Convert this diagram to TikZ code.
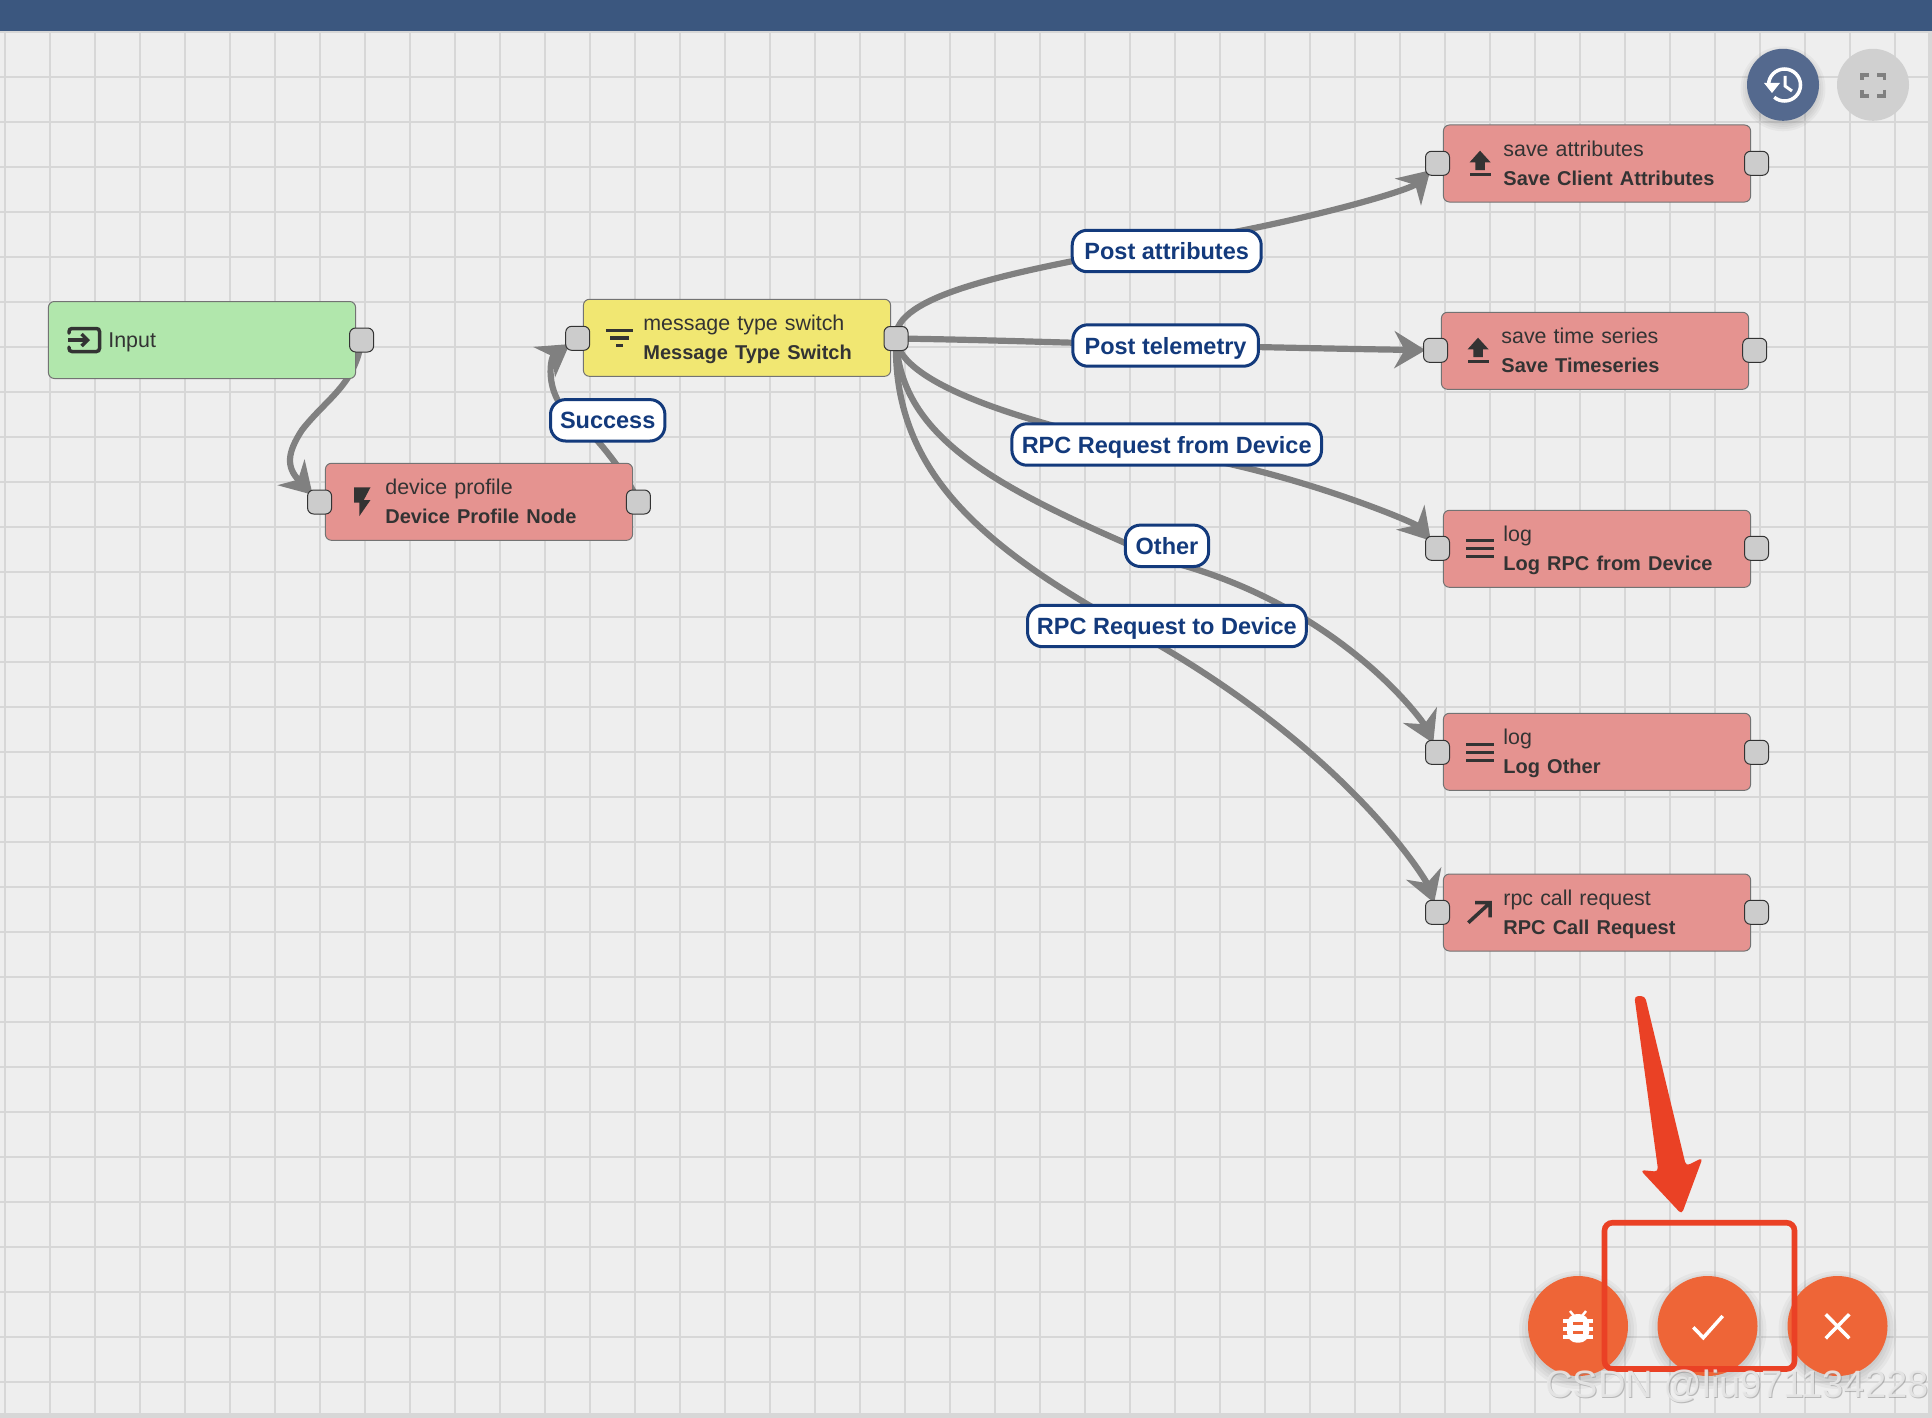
\documentclass[tikz,border=0pt]{standalone}
\usepackage{fontspec}
\setmainfont{Liberation Sans}
\usetikzlibrary{arrows.meta}
\pgfdeclarelayer{gridlayer}
\pgfdeclarelayer{edgelayer}
\pgfsetlayers{gridlayer,edgelayer,main}
\definecolor{bgc}{HTML}{EEEEEE}
\definecolor{gridc}{HTML}{D7D7D7}
\definecolor{barc}{HTML}{3B577F}
\definecolor{greenc}{HTML}{B1E7AC}
\definecolor{yellowc}{HTML}{F1E772}
\definecolor{redn}{HTML}{E59390}
\definecolor{portc}{HTML}{CCCCCC}
\definecolor{edgec}{HTML}{808080}
\definecolor{navy}{HTML}{133A7C}
\definecolor{ink}{HTML}{333333}
\definecolor{fab}{HTML}{EE6537}
\definecolor{calloutc}{HTML}{EA4125}
\definecolor{histc}{HTML}{54698E}
\definecolor{fullc}{HTML}{D0D0D0}
\tikzset{
  rulebox/.style={draw=black!55,line width=0.5pt,rounded corners=3pt,inner sep=0pt,
    minimum width=153.6pt,minimum height=38.5pt,text width=153.6pt,align=left,text=ink,
    font=\fontsize{10.7pt}{14.5pt}\selectfont},
  port/.style={draw=ink,line width=0.5pt,fill=portc,rounded corners=3pt,inner sep=0pt,
    minimum width=12pt,minimum height=12pt},
  edgeline/.style={draw=edgec,line width=3.1pt,shorten >=5pt,-{Stealth[length=15.5pt,width=18.5pt,inset=5pt]}},
  linklabel/.style={draw=navy,line width=1.5pt,fill=white,rounded corners=7.5pt,inner sep=0pt,
    minimum height=20.7pt,text height=11pt,text depth=2.5pt,text=navy,font=\fontsize{11.75pt}{14pt}\selectfont\bfseries},
  button/.style={circle,inner sep=0pt,minimum size=50pt,fill=fab},
  topbutton/.style={circle,inner sep=0pt,minimum size=36pt},
  icon/.style={draw=ink,line width=1.75pt},
  whiteicon/.style={draw=white,line width=1.75pt},
}
\newcommand{\firststrut}{\rule[-4.35pt]{0pt}{16pt}}
\newcommand{\twolines}[2]{\hspace*{30pt}\firststrut #1\\\hspace*{30pt}\strut\fontsize{10pt}{14.5pt}\selectfont\bfseries #2}
\newcommand{\softshadow}[3]{%
  \foreach \r in {1.00,1.06,1.12,1.18}{\fill[black,opacity=0.035] (#1,#2+4) circle[radius=#3*\r*0.5pt];}}
\begin{document}
\begin{tikzpicture}[x=0.5pt,y=-0.5pt]
\useasboundingbox (0,0) rectangle (1932,1418);
\begin{pgfonlayer}{gridlayer}
  \fill[bgc] (0,0) rectangle (1932,1418);
  \foreach \i in {0,...,42}{\draw[gridc,line width=1pt] ({4.5+45*\i},0) -- ({4.5+45*\i},1418);}
  \foreach \j in {0,...,30}{\draw[gridc,line width=1pt] (0,{31.7+45*\j}) -- (1932,{31.7+45*\j});}
  \fill[gridc] (1928,0) rectangle (1932,1418);
  \fill[gridc] (0,1413) rectangle (1932,1418);
  \fill[barc] (0,0) rectangle (1932,31);
\end{pgfonlayer}

% rule nodes
\node[rulebox,fill=greenc,minimum height=38.5pt] (input) at (202,340) {\hspace*{30pt}\firststrut Input};
\node[rulebox,fill=redn] (device) at (479,501.8) {\twolines{device profile}{Device Profile Node}};
\node[rulebox,fill=yellowc] (switch) at (737,337.8) {\twolines{message type switch}{Message Type Switch}};
\node[rulebox,fill=redn] (client) at (1597,163.5) {\twolines{save attributes}{Save Client Attributes}};
\node[rulebox,fill=redn] (series) at (1595,350.8) {\twolines{save time series}{Save Timeseries}};
\node[rulebox,fill=redn] (logrpc) at (1597,548.8) {\twolines{log}{Log RPC from Device}};
\node[rulebox,fill=redn] (logother) at (1597,751.8) {\twolines{log}{Log Other}};
\node[rulebox,fill=redn] (rpccall) at (1597,912.5) {\twolines{rpc call request}{RPC Call Request}};

% ports
\node[port] (inputOut) at (361.6,340) {};
\node[port] (deviceIn) at (319.6,502) {};
\node[port] (deviceOut) at (638.4,502) {};
\node[port] (switchIn) at (577.7,338.3) {};
\node[port] (switchOut) at (896,338.5) {};
\node[port] (clientIn) at (1437.5,163.3) {};
\node[port] (clientOut) at (1756.5,163.3) {};
\node[port] (seriesIn) at (1435.5,350.3) {};
\node[port] (seriesOut) at (1754.7,350.3) {};
\node[port] (logrpcIn) at (1437.5,548.3) {};
\node[port] (logrpcOut) at (1756.5,548.3) {};
\node[port] (logotherIn) at (1437.5,752.3) {};
\node[port] (logotherOut) at (1756.5,752.3) {};
\node[port] (rpccallIn) at (1437.5,912.3) {};
\node[port] (rpccallOut) at (1756.5,912.3) {};

% link labels
\node[linklabel,minimum width=94.5pt] (labAttr) at (1166.7,251) {Post attributes};
\node[linklabel,minimum width=92.8pt] (labTele) at (1165.6,345.5) {Post telemetry};
\node[linklabel,minimum width=154.8pt] (labFrom) at (1166.7,444.5) {RPC Request from Device};
\node[linklabel,minimum width=41.6pt] (labOther) at (1167,545.8) {Other};
\node[linklabel,minimum width=139.4pt] (labTo) at (1166.9,626) {RPC Request to Device};
\node[linklabel,minimum width=57.2pt] (labOk) at (607.7,420.3) {Success};

% connectors
\coordinate (wpInput) at (302,430);
\coordinate (wpOk) at (578,421);
\coordinate (wpAttr) at (1166,244);
\coordinate (wpTele) at (1166,345);
\coordinate (wpFrom) at (1166,452);
\coordinate (wpOther) at (1167,561);
\coordinate (wpTo) at (1125,626);
\begin{pgfonlayer}{edgelayer}
  \draw[edgeline] (inputOut.center) .. controls (355,385) and (327,398) .. (wpInput) .. controls (287,453) and (286,467) .. (deviceIn.center);
  \draw[edgeline] (deviceOut.center) .. controls (630,480) and (600,440) .. (wpOk) .. controls (543,400) and (550,358) .. (switchIn.center);
  \draw[edgeline] (switchOut.center) .. controls (893,296) and (1005,272) .. (wpAttr) .. controls (1290,225) and (1409,191) .. (clientIn.center);
  \draw[edgeline] (switchOut.center) .. controls (1000,340) and (1100,344) .. (wpTele) .. controls (1250,347) and (1350,349) .. (seriesIn.center);
  \draw[edgeline] (switchOut.center) .. controls (900,385) and (1030,425) .. (wpFrom) .. controls (1290,470) and (1415,522.6) .. (logrpcIn.center);
  \draw[edgeline] (switchOut.center) .. controls (900,440) and (1000,490) .. (wpOther) .. controls (1340,605) and (1423,721.5) .. (logotherIn.center);
  \draw[edgeline] (switchOut.center) .. controls (892,470) and (980,545) .. (wpTo) .. controls (1345,745) and (1426,880) .. (rpccallIn.center);
\end{pgfonlayer}

% node icons
\draw[icon,line cap=round,rounded corners=1.5pt] (69,333) -- (69,328.5) -- (99.5,328.5) -- (99.5,351.5) -- (69,351.5) -- (69,347);
\draw[icon,-{Straight Barb[length=3pt,width=6pt]}] (68,340) -- (90,340);
\fill[ink] (354,487.3) -- (370.5,487.3) -- (363.8,500) -- (370.5,500) -- (359.4,516) -- (359.4,502.7) -- (354,502.7) -- cycle;
\draw[icon] (605.8,330.7) -- (633,330.7) (610.3,338) -- (628.6,338) (616,345.7) -- (622.8,345.7);
\foreach \dx/\dy in {0/0,-2/187}{
  \fill[ink] (1480+\dx,150.7+\dy) -- (1490.6+\dx,162.3+\dy) -- (1484.8+\dx,162.3+\dy) -- (1484.8+\dx,170+\dy) -- (1475.3+\dx,170+\dy) -- (1475.3+\dx,162.3+\dy) -- (1469.6+\dx,162.3+\dy) -- cycle;
  \fill[ink] (1469.6+\dx,172.7+\dy) rectangle (1490.6+\dx,176+\dy);
}
\foreach \y in {548.7,752.7}{
  \draw[icon,line width=1.6pt] (1466.3,\y-8) -- (1493.7,\y-8) (1466.3,\y) -- (1493.7,\y) (1466.3,\y+8) -- (1493.7,\y+8);
}
\draw[icon] (1468.3,922.7) -- (1489,903.7) (1475,902.7) -- (1490,902.7) -- (1490,917.3);

% top buttons
\softshadow{1783}{84.8}{36}
\node[topbutton,fill=histc] (history) at (1783,84.8) {};
\node[topbutton,fill=fullc] (fullscreen) at (1873,84.8) {};
\draw[whiteicon] (1768.5,85) arc[start angle=180,end angle=-130,radius=8pt];
\fill[white] (1764,83) -- (1780,83) -- (1772,93) -- cycle;
\draw[white,line width=1.5pt] (1785,76) -- (1785,86) -- (1792,91);
\draw[draw=black!50,line width=1.9pt] (1862,80) -- (1862,74.8) -- (1869,74.8) (1877,74.8) -- (1884.5,74.8) -- (1884.5,80) (1884.5,90) -- (1884.5,96.2) -- (1877,96.2) (1869,96.2) -- (1862,96.2) -- (1862,90);

% bottom buttons
\softshadow{1578}{1326}{50}
\softshadow{1707.5}{1326}{50}
\softshadow{1837.5}{1326}{50}
\node[button] (debug) at (1578,1326) {};
\node[button] (apply) at (1707.5,1326) {};
\node[button] (cancel) at (1837.5,1326) {};
% bug icon
\fill[white,rounded corners=5pt] (1567,1314) rectangle (1589,1342.7);
\draw[white,line width=1.2pt] (1570,1311) -- (1574,1316) (1586,1311) -- (1582,1316);
\draw[white,line width=1.6pt] (1563,1321) -- (1593,1321) (1563,1329) -- (1593,1329) (1563,1337) -- (1593,1337);
\fill[fab] (1572.7,1322) rectangle (1583,1325);
\fill[fab] (1572.7,1331) rectangle (1583,1334);
\draw[whiteicon] (1693.3,1327.3) -- (1703.3,1337.7) -- (1722.7,1316);
\draw[whiteicon] (1825.7,1314.3) -- (1849.3,1338.3) (1825.7,1338.3) -- (1849.3,1314.3);

% red callout
\draw[calloutc,line width=2.8pt,rounded corners=4pt] (1604.5,1222.7) rectangle (1794.5,1369);
\fill[calloutc,rounded corners=2pt] (1634.3,996) -- (1645,996) -- (1686,1166) -- (1702.7,1157.7) -- (1681.7,1214.3) -- (1640.3,1170) -- (1658.3,1171.7) -- cycle;

% watermark
\node[anchor=base west,inner sep=0pt,text=black!45,opacity=0.55,font=\fontsize{19.05pt}{20pt}\selectfont] (markshade) at (1546,1398) {CSDN @liu971134228};
\node[anchor=base west,inner sep=0pt,text=black!9,opacity=0.9,font=\fontsize{19.05pt}{20pt}\selectfont] (markname) at (1545,1397) {CSDN @liu971134228};
\end{tikzpicture}
\end{document}
